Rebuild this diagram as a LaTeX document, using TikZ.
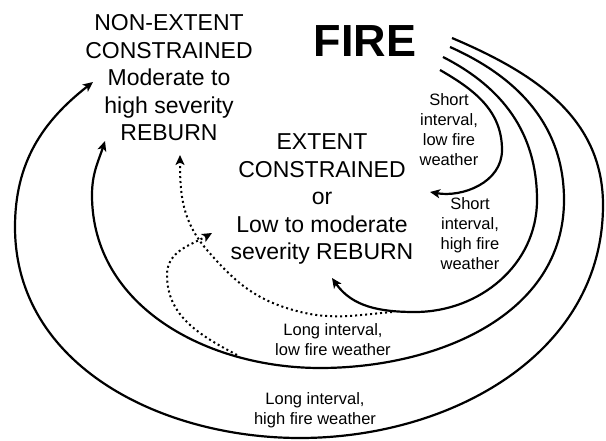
\documentclass[tikz,border=0pt]{standalone}
\usepackage{fontspec}
\setmainfont{Liberation Sans}
\usetikzlibrary{arrows.meta}

\begin{document}
\begin{tikzpicture}[x=1pt, y=1pt,
    firepath/.style={black, line width=2.2pt, -{Stealth[length=10pt,width=9pt,inset=2.5pt]}},
    longpath/.style={black, line width=2pt, dash pattern=on 2pt off 3pt, -{Stealth[length=10pt,width=9pt,inset=2.5pt]}},
    outcome/.style={align=center, inner sep=1pt, font=\fontsize{23}{27.5}\selectfont},
    lbl/.style={align=center, inner sep=1pt, font=\fontsize{16.5}{20}\selectfont}]
    \useasboundingbox (0,0) rectangle (606,440);

    \node[inner sep=1pt, font=\fontsize{45}{50}\selectfont\bfseries] (fire) at (365,399) {FIRE};
    \node[outcome] (nonext) at (169,362) {NON-EXTENT\\CONSTRAINED\\Moderate to\\high severity\\REBURN};
    \node[outcome] (ext) at (322,241) {EXTENT\\CONSTRAINED\\or\\Low to moderate\\severity REBURN};

    \node[lbl] (sil) at (449,310) {Short\\interval,\\low fire\\weather};
    \node[lbl] (sih) at (470,206) {Short\\interval,\\high fire\\weather};
    \node[lbl] (lil) at (333,100) {Long interval,\\low fire weather};
    \node[lbl] (lih) at (315,30) {Long interval,\\high fire weather};

    % start of each path next to FIRE
    \coordinate (f1) at (440,370);
    \coordinate (f2) at (443,383);
    \coordinate (f3) at (450,393);
    \coordinate (f4) at (452,402);
    % arrow ends
    \coordinate (e1) at (430,248);
    \coordinate (e2) at (332,162);
    \coordinate (e3) at (105,299);
    \coordinate (e4) at (93,358);
    \coordinate (e5) at (180,285);
    \coordinate (e6) at (212,207);
    % where the dotted paths leave
    \coordinate (b2) at (392,128);
    \coordinate (b3) at (237,85);

    \draw[firepath] (f1) to[out=-30,in=90] (502,290) to[out=-90,in=-10] (e1);
    \draw[firepath] (f2) to[out=-27,in=90] (537,240) to[out=-90,in=0] (415,128) to[out=180,in=-55] (e2);
    \draw[firepath] (f3) to[out=-24,in=90] (564,240) to[out=-90,in=0] (320,72) to[out=180,in=-90] (92,245) to[out=90,in=-108] (e3);
    \draw[firepath] (f4) to[out=-23,in=90] (603,235) to[out=-90,in=0] (300,2) to[out=180,in=-90] (15,213) to[out=90,in=-142] (e4);

    \draw[longpath] (b2) to[out=185,in=-16] (293,130) to[out=164,in=-49] (207,190) to[out=131,in=-90] (e5);
    \draw[longpath] (b3) to[out=152,in=-90] (167,165) to[out=90,in=-150] (e6);
\end{tikzpicture}
\end{document}
